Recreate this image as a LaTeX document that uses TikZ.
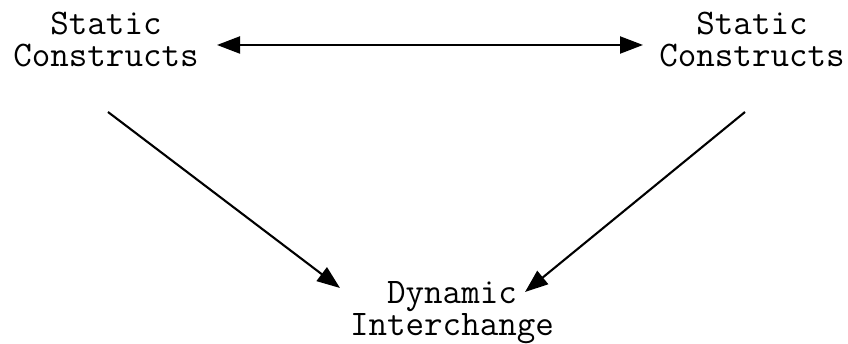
\documentclass[tikz,border=0pt]{standalone}
\usetikzlibrary{arrows.meta,calc}
\begin{document}
\begin{tikzpicture}[x=1pt,y=1pt,
  lbl/.style={inner sep=0pt,align=center,font=\fontsize{36}{32}\selectfont\ttfamily},
  arr/.style={line width=2.1pt,-{Triangle[length=23pt,width=17pt]}},
  darr/.style={line width=2.1pt,{Triangle[length=23pt,width=17pt]}-{Triangle[length=23pt,width=17pt]}}]
\useasboundingbox (0,0) rectangle (848,-344);
\node[lbl] (L) at (106,-40) {Static\\Constructs};
\node[lbl] (R) at (752,-40) {Static\\Constructs};
\node[lbl] (D) at (452,-313) {Dynamic\\Interchange};
\draw[darr] ($(L.center)+(111,-5)$) -- ($(R.center)+(-109,-5)$);
\draw[arr] ($(L.center)+(2,-72)$) -- ($(D.center)+(-112,25)$);
\draw[arr] ($(R.center)+(-7,-72)$) -- ($(D.center)+(73,21)$);
\end{tikzpicture}
\end{document}
